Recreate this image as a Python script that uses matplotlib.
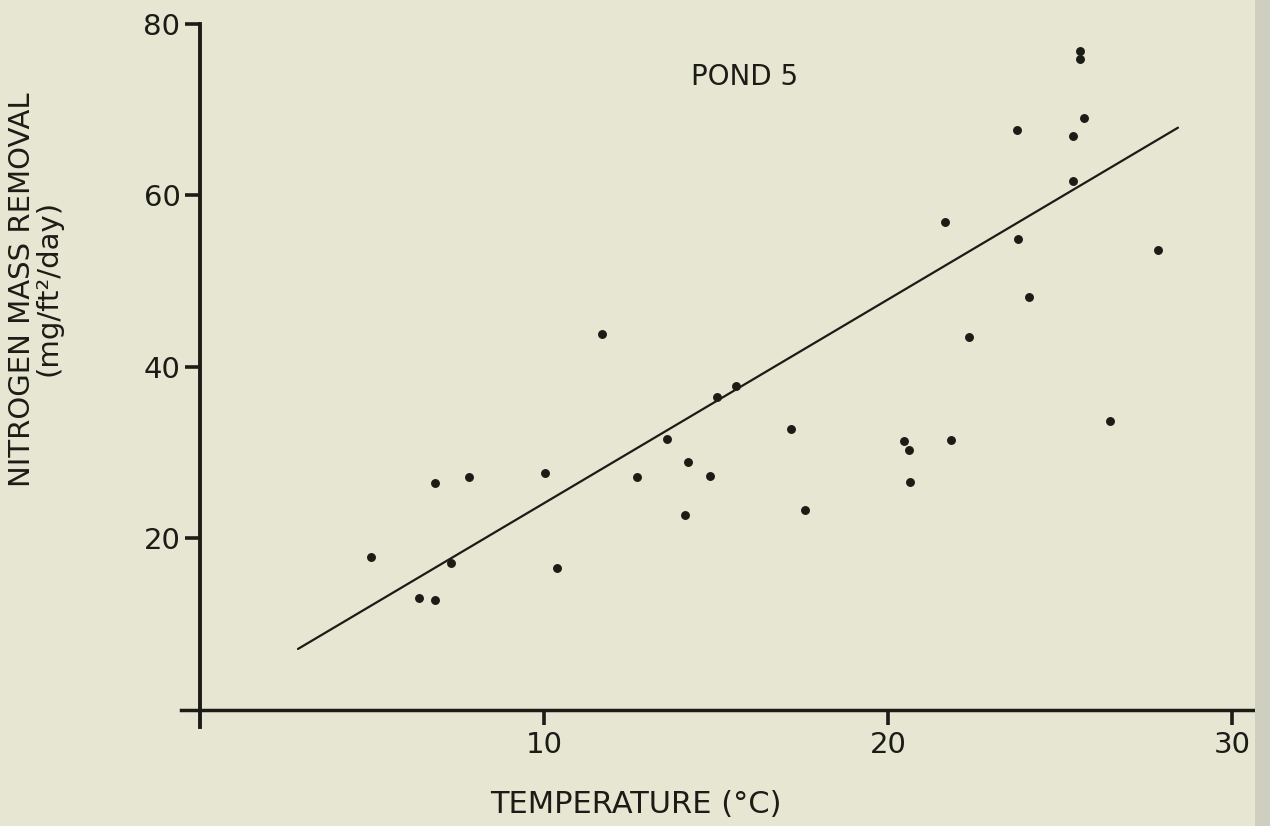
import numpy as np
import matplotlib
matplotlib.use("Agg")
import matplotlib.pyplot as plt
from matplotlib.patches import Rectangle

# pond 5: temperature (deg C) vs nitrogen mass removal (mg/ft2/day)
temp = [4.96, 6.36, 6.84, 6.84, 7.81, 7.29, 10.04, 10.38, 11.69, 12.71,
        13.57, 14.17, 14.09, 14.81, 15.02, 15.58, 17.17, 17.59, 20.46, 20.61,
        20.62, 21.83, 21.64, 22.35, 23.78, 24.09, 23.74, 25.36, 25.36, 25.57,
        25.56, 25.68, 27.84, 26.45]
removal = [17.8, 13.0, 12.8, 26.4, 27.2, 17.1, 27.6, 16.5, 43.8, 27.2,
           31.6, 28.9, 22.7, 27.3, 36.5, 37.8, 32.8, 23.3, 31.4, 30.3,
           26.6, 31.5, 56.9, 43.5, 54.9, 48.1, 67.6, 66.9, 61.7, 76.8,
           75.9, 69.0, 53.6, 33.7]

# fitted line end points
fit_x = [2.85, 28.42]
fit_y = [7.1, 67.9]

xticks = [10, 20, 30]
yticks = [20, 40, 60, 80]

bg = "#e6e6d2"
ink = "#1c1c16"

fig = plt.figure(figsize=(12.7, 8.26), dpi=100, facecolor=bg)
ax = fig.add_axes([0.1425, 0.1199, 0.8441, 0.8511])
ax.set_facecolor(bg)

ax.plot(fit_x, fit_y, color=ink, lw=1.6, solid_capstyle="round")
ax.plot(temp, removal, "o", color=ink, ms=5.4, mec=ink)

ax.set_xlim(-0.55, 30.6)
ax.set_ylim(-2.0, 80)

for s in ["top", "right"]:
    ax.spines[s].set_visible(False)
ax.spines["left"].set_position(("data", 0))
ax.spines["bottom"].set_position(("data", 0))
ax.spines["left"].set_linewidth(2.8)
ax.spines["bottom"].set_linewidth(2.5)
ax.spines["left"].set_color(ink)
ax.spines["bottom"].set_color(ink)

ax.set_xticks(xticks)
ax.set_yticks(yticks)
ax.tick_params(axis="both", direction="out", length=11, width=2.6, color=ink,
               labelsize=21, labelcolor=ink)
ax.tick_params(axis="x", pad=4)
ax.tick_params(axis="y", pad=3)

ax.text(15.84, 73.8, "POND 5", ha="center", va="center", fontsize=20, color=ink)

fig.text(0.5008, 0.0266, "TEMPERATURE (°C)", ha="center", va="center",
         fontsize=22, color=ink)
fig.text(0.017, 0.649, "NITROGEN MASS REMOVAL", rotation=90, ha="center",
         va="center", fontsize=21, color=ink)
fig.text(0.038, 0.652, "(mg/ft²/day)", rotation=90, ha="center",
         va="center", fontsize=21, color=ink)

# grey strip along the right edge of the page
fig.patches.append(Rectangle((0.988, 0), 0.012, 1, transform=fig.transFigure,
                             facecolor="#cfcfc0", edgecolor="none", zorder=0))

fig.savefig("out.png", dpi=100, facecolor=bg)
